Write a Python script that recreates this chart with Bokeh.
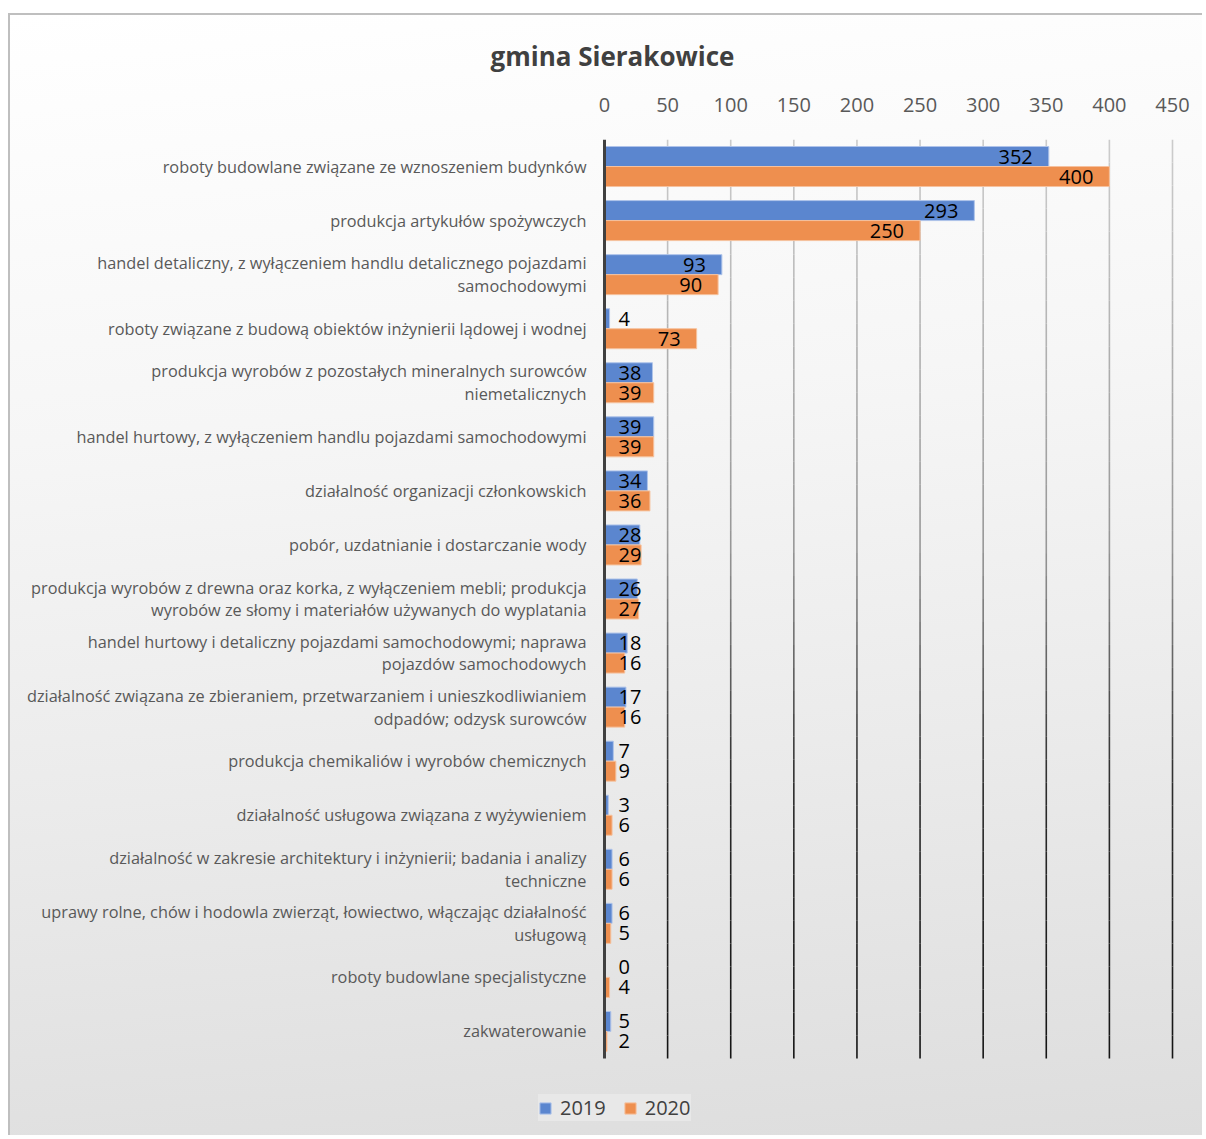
from bokeh.plotting import figure
from bokeh.models import ColumnDataSource, FixedTicker, Range1d, Legend, LegendItem
from bokeh.transform import dodge
from bokeh.core.properties import value
from bokeh.embed import file_html
from bokeh.resources import INLINE

title_text = "gmina Sierakowice"
categories = [
    "roboty budowlane związane ze wznoszeniem budynków",
    "produkcja artykułów spożywczych",
    "handel detaliczny, z wyłączeniem handlu detalicznego pojazdami\nsamochodowymi",
    "roboty związane z budową obiektów inżynierii lądowej i wodnej",
    "produkcja wyrobów z pozostałych mineralnych surowców\nniemetalicznych",
    "handel hurtowy, z wyłączeniem handlu pojazdami samochodowymi",
    "działalność organizacji członkowskich",
    "pobór, uzdatnianie i dostarczanie wody",
    "produkcja wyrobów z drewna oraz korka, z wyłączeniem mebli; produkcja\nwyrobów ze słomy i materiałów używanych do wyplatania",
    "handel hurtowy i detaliczny pojazdami samochodowymi; naprawa\npojazdów samochodowych",
    "działalność związana ze zbieraniem, przetwarzaniem i unieszkodliwianiem\nodpadów; odzysk surowców",
    "produkcja chemikaliów i wyrobów chemicznych",
    "działalność usługowa związana z wyżywieniem",
    "działalność w zakresie architektury i inżynierii; badania i analizy\ntechniczne",
    "uprawy rolne, chów i hodowla zwierząt, łowiectwo, włączając działalność\nusługową",
    "roboty budowlane specjalistyczne",
    "zakwaterowanie",
]
values_2019 = [352, 293, 93, 4, 38, 39, 34, 28, 26, 18, 17, 7, 3, 6, 6, 0, 5]
values_2020 = [400, 250, 90, 73, 39, 39, 36, 29, 27, 16, 16, 9, 6, 6, 5, 4, 2]
series_names = ["2019", "2020"]
x_ticks = [0, 50, 100, 150, 200, 250, 300, 350, 400, 450]

FONT = "Open Sans"
BLUE, BLUE_LINE = "#5B86CF", "#AFC4EA"
ORANGE, ORANGE_LINE = "#EE8F4F", "#F6C29E"

n = len(categories)
idx = list(range(n))

# layout (pixels)
W, H = 1194, 1122
TOP = 124                 # space for title + top axis
AXIS_X = 594              # screen x of value 0 inside the canvas
VAL_SPAN = 568            # pixels for 0..450
CAT_SPAN = 919            # pixels for all categories
px_per_unit = VAL_SPAN / x_ticks[-1]
x_start = -AXIS_X / px_per_unit
x_end = x_start + W / px_per_unit
cat_px = CAT_SPAN / n
frame_h = H - TOP
y_bottom = -0.5 + frame_h / cat_px

p = figure(width=W, height=H, output_backend="svg", toolbar_location=None,
           x_range=Range1d(x_start, x_end), y_range=Range1d(y_bottom, -0.5),
           x_axis_location="above", y_axis_location=None,
           min_border_left=0, min_border_right=0,
           min_border_top=TOP, min_border_bottom=0)
p.margin = (13, 0, 0, 8)
p.styles = {
    "background": "linear-gradient(175deg, #ffffff 0%, #f6f6f6 35%, #ebebeb 65%, #dddddd 100%)",
    "border-top": "2px solid #bfbfbf",
    "border-left": "2px solid #bfbfbf",
}
p.border_fill_alpha = 0
p.background_fill_alpha = 0
p.outline_line_color = None

# title
p.title.text = title_text
p.title.text_font = FONT
p.title.text_font_style = "bold"
p.title.text_font_size = "26px"
p.title.text_color = "#404040"
p.title.align = "left"
p.title.offset = 480
p.title.standoff = 41

# gradient gridlines (light at top, dark at bottom)
def shade(f):
    pts = [(0.0, 205), (0.45, 150), (0.7, 45), (1.0, 20)]
    for (a, ca), (b, cb) in zip(pts[:-1], pts[1:]):
        if a <= f <= b:
            c = int(ca + (cb - ca) * (f - a) / (b - a))
            return "#%02x%02x%02x" % (c, c, c)
    return "#141414"

nseg = 40
gx, gy0, gy1, gc = [], [], [], []
for t in x_ticks[1:]:
    for k in range(nseg):
        f0, f1 = k / nseg, (k + 1) / nseg
        gx.append(t)
        gy0.append(-0.5 + f0 * n)
        gy1.append(-0.5 + f1 * n)
        gc.append(shade((f0 + f1) / 2))
p.segment(x0=gx, x1=gx, y0=gy0, y1=gy1, line_color=gc, line_width=1.6)
p.xgrid.visible = False
p.ygrid.visible = False

src = ColumnDataSource(dict(y=idx, cat=categories, v2019=values_2019, v2020=values_2020))
bh = 0.37
r1 = p.hbar(y=dodge("y", -0.185), right="v2019", left=0, height=bh, source=src,
            fill_color=BLUE, line_color=BLUE_LINE, line_width=1)
r2 = p.hbar(y=dodge("y", 0.185), right="v2020", left=0, height=bh, source=src,
            fill_color=ORANGE, line_color=ORANGE_LINE, line_width=1)

# vertical category axis line
p.segment(x0=[0], x1=[0], y0=[-0.5], y1=[n - 0.5], line_color="#404040", line_width=3)

# category labels
p.text(x=0, y="y", text="cat", source=src, x_offset=-18, text_align="right",
       text_baseline="middle", text_font=value(FONT), text_font_size="16.3px",
       text_color="#595959", text_line_height=1.04)

# data labels
def label_sources(vals, off):
    big = dict(x=[], y=[], t=[])
    small = dict(x=[], y=[], t=[])
    for i, v in enumerate(vals):
        d = big if v >= 44 else small
        d["x"].append(v if v >= 44 else 0)
        d["y"].append(i + off)
        d["t"].append(str(v))
    return big, small

for vals, off in ((values_2019, -0.185), (values_2020, 0.185)):
    big, small = label_sources(vals, off)
    p.text(x="x", y="y", text="t", source=ColumnDataSource(big), text_align="right",
           text_baseline="middle", x_offset=-16, text_font=value(FONT),
           text_font_size="20px", text_color="#000000")
    p.text(x="x", y="y", text="t", source=ColumnDataSource(small), text_align="left",
           text_baseline="middle", x_offset=14, text_font=value(FONT),
           text_font_size="20px", text_color="#000000")

# top value axis
xa = p.xaxis[0]
xa.ticker = FixedTicker(ticks=x_ticks)
xa.major_tick_line_color = None
xa.minor_tick_line_color = None
xa.axis_line_color = None
xa.major_label_text_font = FONT
xa.major_label_text_font_size = "20px"
xa.major_label_text_color = "#595959"
xa.major_label_standoff = 22

legend = Legend(items=[LegendItem(label=series_names[0], renderers=[r1]),
                       LegendItem(label=series_names[1], renderers=[r2])],
                orientation="horizontal", location=(528, 16))
legend.label_text_font = FONT
legend.label_text_font_size = "20px"
legend.label_text_color = "#404040"
legend.label_height = 23
legend.glyph_width = 14
legend.glyph_height = 14
legend.label_standoff = 8
legend.spacing = 17
legend.padding = 10
legend.margin = 0
legend.background_fill_color = "#e8e8e8"
legend.background_fill_alpha = 1
legend.border_line_color = None
p.add_layout(legend)

open("out.html", "w").write(file_html(p, INLINE))
